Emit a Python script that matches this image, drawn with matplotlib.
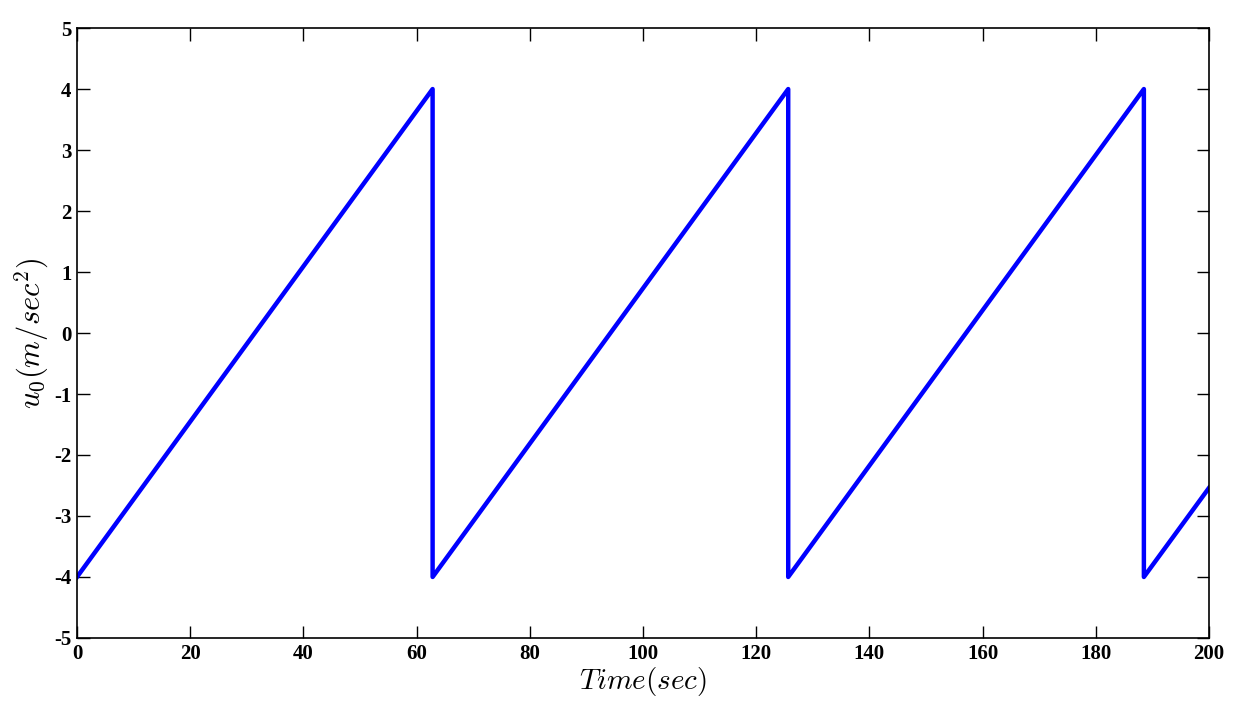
import numpy as np
import matplotlib
matplotlib.use("Agg")
import matplotlib.pyplot as plt

# Data: sawtooth breakpoints
time_pts = [0.0, 62.83, 62.83, 125.66, 125.66, 188.5, 188.5, 200.0]
u0_vals = [-4.0, 4.0, -4.0, 4.0, -4.0, 4.0, -4.0, -2.54]
xticks = [0, 20, 40, 60, 80, 100, 120, 140, 160, 180, 200]
yticks = [-5, -4, -3, -2, -1, 0, 1, 2, 3, 4, 5]

plt.rcParams['mathtext.fontset'] = 'cm'
plt.rcParams['font.family'] = ['Liberation Serif', 'DejaVu Serif']

fig = plt.figure(figsize=(12.42, 7.01), dpi=100)
ax = fig.add_axes([0.062, 0.0899, 0.9114, 0.8701])
ax.plot(time_pts, u0_vals, color='#0000ff', linewidth=3.2, solid_joinstyle='round')
ax.set_xlim(0, 200)
ax.set_ylim(-5, 5)
ax.set_xticks(xticks)
ax.set_yticks(yticks)
ax.set_xticklabels([str(v) for v in xticks], fontweight='bold', fontsize=15)
ax.set_yticklabels([str(v) for v in yticks], fontweight='bold', fontsize=15)
ax.tick_params(direction='in', top=True, right=True, length=9, width=1.0, pad=4)
for s in ax.spines.values():
    s.set_linewidth(1.2)
ax.set_xlabel(r'$Time(sec)$', fontsize=21, labelpad=1)
ax.set_ylabel(r'$u_0(m/sec^2)$', fontsize=22, labelpad=2)
fig.savefig('out.png', dpi=100)
